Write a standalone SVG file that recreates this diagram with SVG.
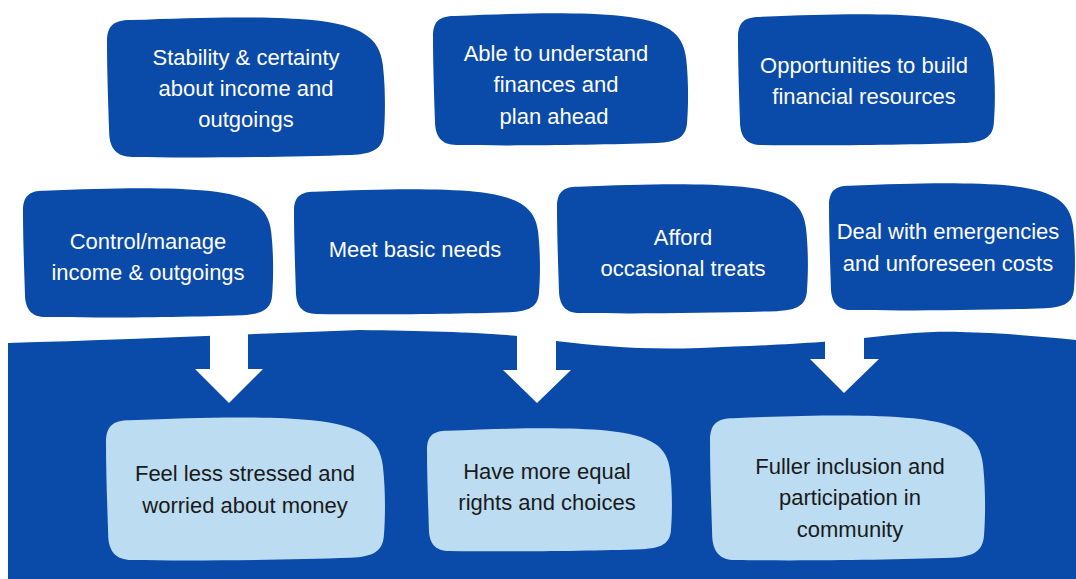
<svg xmlns="http://www.w3.org/2000/svg" xmlns:xlink="http://www.w3.org/1999/xlink" width="1076" height="579" viewBox="0 0 1076 579">
<style>
.dark{fill:#0a4aa9}
.light{fill:#bbdcf1}
.tw{font-family:"Liberation Sans",Arial,sans-serif;font-size:22px;fill:#ffffff;text-anchor:middle}
.tb{font-family:"Liberation Sans",Arial,sans-serif;font-size:22px;fill:#1a1a1a;text-anchor:middle}
.arrow{fill:#ffffff}
</style>
<defs>
<path id="blob" d="M 0,24 C 0,9 6,3 22,3 C 90,0 150,-1 192,3 C 238,8 255,20 258,46 C 261,72 260,100 259,112 C 258,127 249,132 228,133 C 170,135 80,136 24,135 C 9,135 2,127 2,110 C 1,80 0,50 0,24 Z"/>
</defs>
<rect width="1076" height="579" fill="#ffffff"/>
<g id="band">
<path class="dark" d="M 8,343 C 120,340 250,334 360,330 C 450,331 520,334 556,341 C 600,346 640,350 700,348 C 780,345 830,342 864,338 C 900,334 930,331 960,332 C 1000,333 1040,336 1076,340 L 1076,579 L 8,579 Z"/>
</g>
<g id="connectors">
<polygon class="arrow" points="210,320 248,320 248,369 263,369 229,403 195,369 210,369"/>
<polygon class="arrow" points="517,320 556,320 556,370 571,370 537,403 503,370 517,370"/>
<polygon class="arrow" points="825,320 864,320 864,359 879,359 844,393 810,359 825,359"/>
</g>
<g id="n1"><use xlink:href="#blob" class="dark" transform="translate(107,17) scale(1.069,1.037)"/><text class="tw" x="246" y="65">Stability &amp; certainty</text><text class="tw" x="246" y="96">about income and</text><text class="tw" x="246" y="127">outgoings</text></g>
<g id="n2"><use xlink:href="#blob" class="dark" transform="translate(433,13) scale(0.981,0.978)"/><text class="tw" x="556" y="61">Able to understand</text><text class="tw" x="556" y="92">finances and</text><text class="tw" x="554" y="124">plan ahead</text></g>
<g id="n3"><use xlink:href="#blob" class="dark" transform="translate(738,14) scale(0.988,0.97)"/><text class="tw" x="864" y="73">Opportunities to build</text><text class="tw" x="864" y="104">financial resources</text></g>
<g id="n4"><use xlink:href="#blob" class="dark" transform="translate(23,188) scale(0.962,0.956)"/><text class="tw" x="148" y="249">Control/manage</text><text class="tw" x="148" y="280">income &amp; outgoings</text></g>
<g id="n5"><use xlink:href="#blob" class="dark" transform="translate(294,189) scale(0.946,0.926)"/><text class="tw" x="415" y="257">Meet basic needs</text></g>
<g id="n6"><use xlink:href="#blob" class="dark" transform="translate(557,184) scale(0.965,0.956)"/><text class="tw" x="683" y="245">Afford</text><text class="tw" x="683" y="276">occasional treats</text></g>
<g id="n7"><use xlink:href="#blob" class="dark" transform="translate(829,183) scale(0.946,0.941)"/><text class="tw" x="948" y="239">Deal with emergencies</text><text class="tw" x="948" y="271">and unforeseen costs</text></g>
<g id="n8"><use xlink:href="#blob" class="light" transform="translate(106,417) scale(1.073,1.059)"/><text class="tb" x="245" y="481">Feel less stressed and</text><text class="tb" x="245" y="513">worried about money</text></g>
<g id="n9"><use xlink:href="#blob" class="light" transform="translate(427,428) scale(0.942,0.911)"/><text class="tb" x="547" y="479">Have more equal</text><text class="tb" x="547" y="510">rights and choices</text></g>
<g id="n10"><use xlink:href="#blob" class="light" transform="translate(710,415) scale(1.058,1.074)"/><text class="tb" x="850" y="474">Fuller inclusion and</text><text class="tb" x="850" y="505">participation in</text><text class="tb" x="850" y="537">community</text></g>
</svg>
